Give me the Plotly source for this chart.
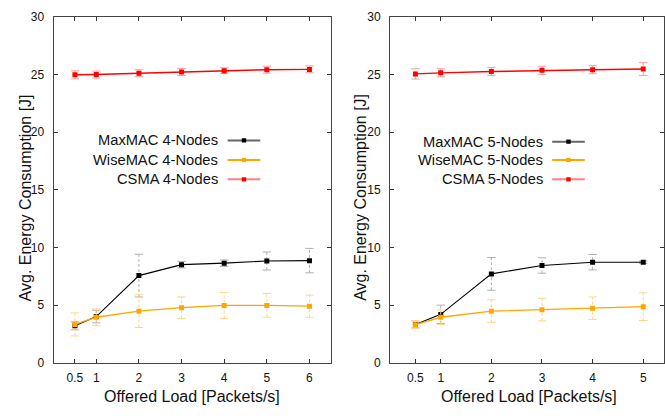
import plotly.graph_objects as go

# ---------------- data ----------------
x4 = [0.5, 1, 2, 3, 4, 5, 6]
max4 = [3.2, 4.0, 7.55, 8.5, 8.63, 8.82, 8.85]
max4_err = [0.35, 0.55, 1.85, 0.28, 0.28, 0.78, 1.06]
wise4 = [3.32, 3.94, 4.47, 4.77, 4.97, 4.97, 4.9]
wise4_err = [1.0, 0.72, 1.42, 0.93, 1.13, 1.03, 0.96]
csma4 = [24.96, 24.98, 25.1, 25.2, 25.32, 25.4, 25.43]
csma4_err = [0.35, 0.3, 0.3, 0.3, 0.25, 0.3, 0.3]

x5 = [0.5, 1, 2, 3, 4, 5]
max5 = [3.32, 4.19, 7.7, 8.43, 8.71, 8.71]
max5_err = [0.3, 0.8, 1.42, 0.67, 0.67, 0.1]
wise5 = [3.3, 3.94, 4.47, 4.6, 4.72, 4.86]
wise5_err = [0.35, 0.63, 0.98, 0.98, 0.98, 1.2]
csma5 = [25.04, 25.13, 25.24, 25.35, 25.4, 25.46]
csma5_err = [0.45, 0.35, 0.35, 0.35, 0.35, 0.56]

xticks4 = [0.5, 1, 2, 3, 4, 5, 6]
xticks5 = [0.5, 1, 2, 3, 4, 5]
yticks = [0, 5, 10, 15, 20, 25, 30]

names4 = ["MaxMAC 4-Nodes", "WiseMAC 4-Nodes", "CSMA 4-Nodes"]
names5 = ["MaxMAC 5-Nodes", "WiseMAC 5-Nodes", "CSMA 5-Nodes"]
x_title = "Offered Load [Packets/s]"
y_title = "Avg. Energy Consumption [J]"

# ---------------- styles ----------------
FONT = "Liberation Sans, Arial, sans-serif"
line_cols = ["#000000", "#ffa500", "#ff0000"]
err_cols = ["#b0b0b0", "#ffd58a", "#ff9c9c"]
leg_cols = ["rgba(0,0,0,0.6)", "#ffa500", "rgba(255,0,0,0.5)"]
line_w = [1.1, 1.3, 1.4]
W, H = 665, 419


def px(p):
    return p / W


def py(p):
    return 1 - p / H


fig = go.Figure()


def add_series(x, y, e, idx, xa, ya):
    ex, ey = [], []
    for xi, yi, ei in zip(x, y, e):
        ex += [xi, xi, None]
        ey += [yi - ei, yi + ei, None]
    fig.add_trace(go.Scatter(x=ex, y=ey, mode="lines", xaxis=xa, yaxis=ya,
                             line=dict(color=err_cols[idx], width=1, dash="3px,2px"),
                             showlegend=False, hoverinfo="skip"))
    cx = list(x) + list(x)
    cy = [yi - ei for yi, ei in zip(y, e)] + [yi + ei for yi, ei in zip(y, e)]
    fig.add_trace(go.Scatter(x=cx, y=cy, mode="markers", xaxis=xa, yaxis=ya,
                             marker=dict(symbol="line-ew", size=6,
                                         line=dict(color=err_cols[idx], width=1)),
                             showlegend=False, hoverinfo="skip"))
    fig.add_trace(go.Scatter(x=x, y=y, mode="lines+markers", xaxis=xa, yaxis=ya,
                             line=dict(color=line_cols[idx], width=line_w[idx]),
                             marker=dict(symbol="square", size=5, color=line_cols[idx]),
                             showlegend=False))


for i, (y, e) in enumerate([(max4, max4_err), (wise4, wise4_err), (csma4, csma4_err)]):
    add_series(x4, y, e, i, "x", "y")
for i, (y, e) in enumerate([(max5, max5_err), (wise5, wise5_err), (csma5, csma5_err)]):
    add_series(x5, y, e, i, "x2", "y2")

y_dom = [py(368), py(10)]
axis_common = dict(showgrid=False, zeroline=False, showline=True, linecolor="#444",
                   linewidth=1, mirror="allticks", ticks="inside", ticklen=4,
                   tickcolor="#333", tickwidth=1,
                   tickfont=dict(family=FONT, size=12, color="#111"))

fig.update_layout(
    width=W, height=H, margin=dict(l=0, r=0, t=0, b=0),
    plot_bgcolor="white", paper_bgcolor="white", showlegend=False,
    xaxis=dict(domain=[px(53.7), px(331.7)], range=[0, 6.51], tickvals=xticks4,
               ticktext=[str(v) for v in xticks4], ticklabelstandoff=4, **axis_common),
    yaxis=dict(domain=y_dom, range=[0, 30], tickvals=yticks, ticklabelstandoff=6,
               **axis_common),
    xaxis2=dict(domain=[px(390.7), 1.0], range=[0, 5.41], tickvals=xticks5,
                ticktext=[str(v) for v in xticks5], anchor="y2", ticklabelstandoff=4,
                **axis_common),
    yaxis2=dict(domain=y_dom, range=[0, 30], tickvals=yticks, anchor="x2",
                ticklabelstandoff=6, **axis_common),
)

ann = []
shapes = []
for cx in [192, 530]:
    ann.append(dict(text=x_title, x=px(cx), y=py(403), xref="paper", yref="paper",
                    showarrow=False, xanchor="center", yanchor="middle",
                    font=dict(family=FONT, size=16, color="#111")))
for cx in [25, 361]:
    ann.append(dict(text=y_title, x=px(cx), y=py(197), xref="paper", yref="paper",
                    showarrow=False, xanchor="center", yanchor="middle", textangle=-90,
                    font=dict(family=FONT, size=16, color="#111")))

legends = [(names4, 220, 228, 260.7, [138, 158.3, 178.3]),
           (names5, 545.7, 553, 585.7, [139.3, 158.3, 178.3])]
for names, tx, lx0, lx1, rows in legends:
    for i, (nm, ry) in enumerate(zip(names, rows)):
        yp = py(ry)
        ann.append(dict(text=nm, x=px(tx), y=yp, xref="paper", yref="paper",
                        showarrow=False, xanchor="right", yanchor="middle",
                        font=dict(family=FONT, size=14.7, color="#111")))
        shapes.append(dict(type="line", xref="paper", yref="paper",
                           x0=px(lx0), x1=px(lx1), y0=yp, y1=yp,
                           line=dict(color=leg_cols[i], width=2)))
        mx = (lx0 + lx1) / 2
        shapes.append(dict(type="rect", xref="paper", yref="paper",
                           x0=px(mx - 2.2), x1=px(mx + 2.2),
                           y0=yp - 2.2 / H, y1=yp + 2.2 / H,
                           fillcolor=line_cols[i], line=dict(width=0)))

fig.update_layout(annotations=ann, shapes=shapes)
fig.write_html("out.html",
               config={"displayModeBar": False},
               post_script="document.body.style.margin='0';"
                           "document.body.style.overflow='hidden';")
